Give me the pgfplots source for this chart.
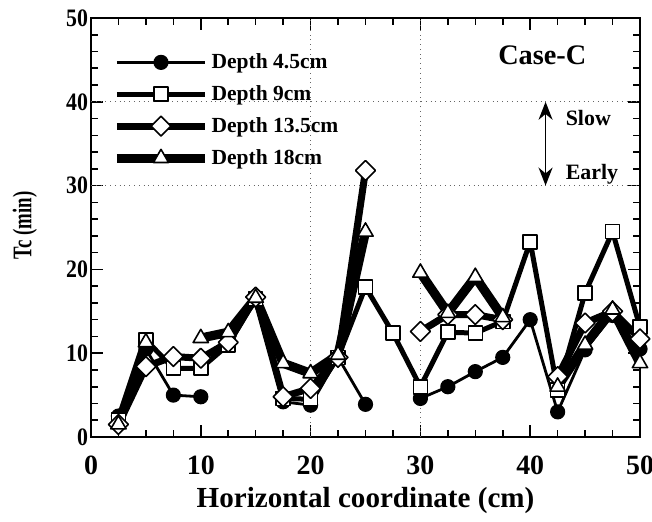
\documentclass[border=0pt]{standalone}
\usepackage{fontspec}
\setmainfont{Liberation Serif}
\newfontfamily\condfont[FakeStretch=0.7]{Liberation Serif}
\newfontfamily\semicond[FakeStretch=0.87]{Liberation Serif}
\usepackage{pgfplots}
\pgfplotsset{compat=1.18}
\usepackage{pgfplotstable}
\usetikzlibrary{arrows.meta}

\pgfplotstableread{
x d45 d9 d135 d18
2.5 2.5 2.0 1.5 1.5
5 10.5 11.6 8.4 11.3
7.5 5.0 8.2 9.6 nan
10 4.8 8.2 9.4 11.8
12.5 nan 11.0 11.3 12.5
15 nan 16.5 16.7 16.6
17.5 4.2 4.6 4.8 8.8
20 3.8 4.5 5.8 7.6
22.5 9.5 9.5 9.5 9.8
25 3.9 17.9 31.8 24.5
27.5 nan 12.4 nan nan
30 4.6 6.0 12.6 19.6
32.5 6.0 12.5 14.6 14.8
35 7.8 12.4 14.6 19.1
37.5 9.5 13.8 14.0 14.3
40 14.0 23.3 nan nan
42.5 3.0 5.6 7.2 6.0
45 10.4 17.2 13.6 11.0
47.5 14.5 24.5 15.0 15.2
50 10.5 13.1 11.7 8.8
}\data

\begin{document}
\begin{tikzpicture}
\begin{axis}[
  name=ax,
  scale only axis,
  width=274.5bp, height=209.5bp,
  xmin=0, xmax=50, ymin=0, ymax=50,
  xtick={0,10,...,50}, ytick={0,10,...,50},
  minor x tick num=3, minor y tick num=4,
  tick align=inside,
  xtick pos=both, ytick pos=both,
  major tick length=6bp, minor tick length=3.5bp,
  axis line style={line width=1bp},
  tick style={line width=0.8bp, black},
  /pgf/number format/assume math mode=true,
  xticklabel style={font=\bfseries\fontsize{14}{14}\selectfont, yshift=-6bp},
  yticklabel style={font=\semicond\bfseries\fontsize{12.6}{12.6}\selectfont, xshift=2bp},
  extra x ticks={20,30}, extra x tick labels={},
  extra y ticks={30,40}, extra y tick labels={},
  extra tick style={grid=major, major grid style={dotted, black!60, line width=0.6bp}, major tick length=0pt},
  xlabel={Horizontal coordinate (cm)},
  every axis x label/.style={at={(rel axis cs:0.5,-0.1527)}, anchor=center, font=\bfseries\fontsize{14.6}{14.6}\selectfont},
  unbounded coords=jump,
  legend cell align=left,
  legend image code/.code={\draw[mark repeat=2,mark phase=2] plot coordinates {(0bp,0bp)(22bp,0bp)(44bp,0bp)};},
  legend style={at={(rel axis cs:0,1)}, xshift=10.5bp, yshift=-16.5bp, anchor=north west, draw=none, fill=none, inner sep=0pt,
    font=\bfseries\fontsize{10.8}{10.8}\selectfont, nodes={inner sep=1bp}, row sep=5bp},
]
\addplot[black, line width=1.4bp, line join=round, mark=*, mark size=3.5bp, mark options={solid, fill=black, line width=0.6bp}] table[x=x, y=d45] {\data};
\addlegendentry{Depth 4.5cm}
\addplot[black, line width=2.5bp, line join=round, mark=square*, mark size=3.5bp, mark options={solid, fill=white, line width=0.8bp}] table[x=x, y=d9] {\data};
\addlegendentry{Depth 9cm}
\addplot[black, line width=3.5bp, line join=round, mark=square*, mark size=3.5bp, mark options={solid, fill=white, line width=0.8bp, rotate=45}] table[x=x, y=d135] {\data};
\addlegendentry{Depth 13.5cm}
\addplot[black, line width=4.6bp, line join=round, mark=triangle*, mark size=4.4bp, mark options={solid, fill=white, line width=0.8bp}] table[x=x, y=d18] {\data};
\addlegendentry{Depth 18cm}

\node[font=\bfseries\fontsize{14.2}{14.2}\selectfont] at (axis cs:41.1,45.6) {Case-C};
\draw[line width=0.9bp, {Stealth[length=9bp,width=7bp]}-{Stealth[length=9bp,width=7bp]}] (axis cs:41.4,30) -- (axis cs:41.4,40);
\node[anchor=west, font=\bfseries\fontsize{11}{11}\selectfont] at (axis cs:42.6,38.1) {Slow};
\node[anchor=west, font=\bfseries\fontsize{11}{11}\selectfont] at (axis cs:42.6,31.3) {Early};
\end{axis}
\node[rotate=90, anchor=center, inner sep=0pt, font=\condfont\bfseries\fontsize{13.5}{13.5}\selectfont] at ([xshift=-33bp,yshift=1bp]ax.west) {Tc (min)};
\pgfresetboundingbox
\path[use as bounding box] ([shift={(-45.5bp,-42.5bp)}]ax.south west) rectangle ([shift={(6bp,9bp)}]ax.north east);
\end{tikzpicture}
\end{document}
